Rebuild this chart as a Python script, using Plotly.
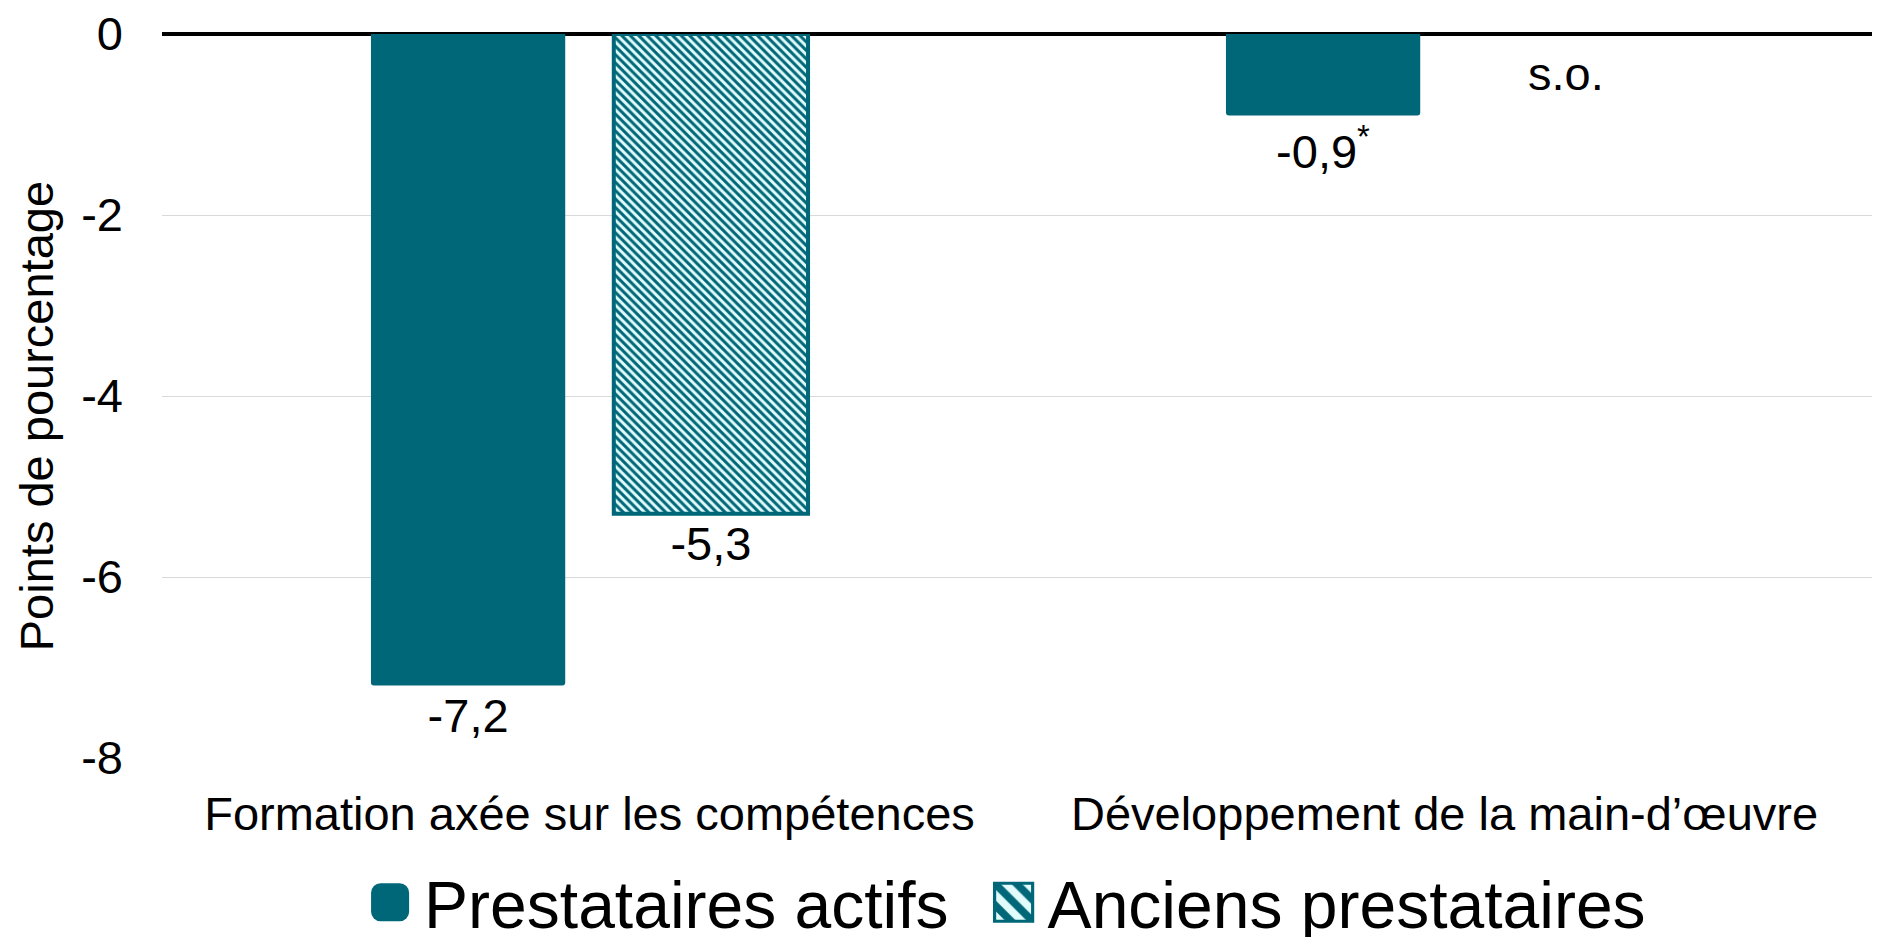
import plotly.graph_objects as go

categories = ["Formation axée sur les compétences", "Développement de la main-d’œuvre"]
actifs = [-7.2, -0.9]
anciens = [-5.3, None]
actifs_labels = ["-7,2", "-0,9<sup>*</sup>"]
anciens_labels = ["-5,3", None]
missing_label = "s.o."
y_title = "Points de pourcentage"
tick_vals = [0, -2, -4, -6, -8]
tick_text = ["0", "-2", "-4", "-6", "-8"]

TEAL = "#006778"
HATCH_BG = "#e2fbfb"
FONT = "Arial, Liberation Sans, sans-serif"
FS = 47
BARGAP = 0.432

anc_x = [c for c, v in zip(categories, anciens) if v is not None]
anc_y = [v for v in anciens if v is not None]
anc_t = [t for t, v in zip(anciens_labels, anciens) if v is not None]

fig = go.Figure()
fig.add_trace(go.Bar(
    name="Prestataires actifs", x=categories, y=actifs,
    marker=dict(color=TEAL, line=dict(width=0), cornerradius=3),
    text=actifs_labels, textposition="outside", cliponaxis=False,
    textfont=dict(size=FS, color="black", family=FONT),
))
fig.add_trace(go.Bar(
    name="Anciens prestataires", x=anc_x, y=anc_y,
    marker=dict(color=HATCH_BG, line=dict(color=TEAL, width=4),
                pattern=dict(shape="\\", fgcolor=TEAL, bgcolor=HATCH_BG,
                             size=6, solidity=0.5, fillmode="replace")),
    text=anc_t, textposition="outside", cliponaxis=False,
    textfont=dict(size=FS, color="black", family=FONT),
))

# "s.o." for the missing value, in the second slot of category 2
fig.add_annotation(
    x=1 + (1 - BARGAP) / 4, y=-0.434, xref="x", yref="y",
    text=missing_label, showarrow=False,
    font=dict(size=FS, color="black", family=FONT),
)
# y-axis title
fig.add_annotation(
    x=-0.0737, y=0.472, xref="paper", yref="paper", xanchor="center", yanchor="middle",
    text=y_title, textangle=-90, showarrow=False,
    font=dict(size=FS, color="black", family=FONT),
)

fig.update_layout(
    width=1874, height=929,
    paper_bgcolor="white", plot_bgcolor="white",
    barmode="group", bargap=BARGAP, bargroupgap=0.2,
    margin=dict(l=154, r=10, t=26, b=179, autoexpand=False),
    font=dict(family=FONT, color="black", size=FS),
    showlegend=True,
    legend=dict(orientation="h", x=0.0983, xanchor="left", y=-0.131, yanchor="top",
                font=dict(size=66, family=FONT, color="black"),
                itemwidth=84, traceorder="normal"),
    xaxis=dict(showgrid=False, showline=False, ticks="", tickfont=dict(size=FS),
               ticklabelstandoff=24, zeroline=False, automargin=False),
    yaxis=dict(range=[-8, 0], tickvals=tick_vals, ticktext=tick_text,
               tickfont=dict(size=FS), showgrid=True, gridcolor="#d9d9d9", gridwidth=1,
               zeroline=True, zerolinecolor="black", zerolinewidth=4,
               showline=False, ticks="", ticklabelstandoff=38, automargin=False,
               ticklabeloverflow="allow"),
)

post = """
var gd = document.getElementById('{plot_id}');
gd.querySelectorAll('g.legend .legendpoints path').forEach(function(p){
  p.setAttribute('transform', 'translate(60,0) scale(3.17)');
  p.style.strokeWidth = '1px';
});
"""
fig.write_html("out.html", post_script=post)
